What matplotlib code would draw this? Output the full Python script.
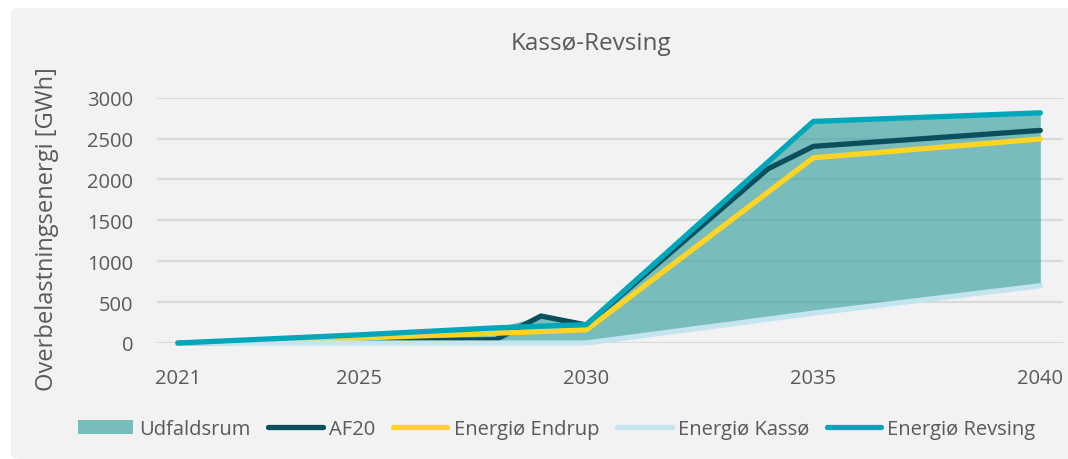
import matplotlib.pyplot as plt
from matplotlib.patches import FancyBboxPatch, Patch
from matplotlib.lines import Line2D

plt.rcParams['font.family'] = ['Open Sans', 'DejaVu Sans']

# data (GWh)
af20_years = [2021, 2028, 2029, 2030, 2034, 2035, 2040]
af20 = [0, 40, 330, 220, 2130, 2405, 2600]

endrup_years = [2021, 2025, 2030, 2035, 2040]
endrup = [0, 60, 160, 2265, 2495]

kasso_years = [2021, 2030, 2035, 2040]
kasso = [0, 0, 365, 700]

revsing_years = [2021, 2025, 2028, 2030, 2035, 2040]
revsing = [0, 100, 185, 225, 2710, 2815]

# outcome range (Udfaldsrum): low/high envelope
udfald_years = [2021, 2028, 2029, 2030, 2035, 2040]
udfald_low = [0, 0, 0, 0, 365, 700]
udfald_high = [0, 185, 330, 225, 2710, 2815]

xticks = [2021, 2025, 2030, 2035, 2040]
yticks = [0, 500, 1000, 1500, 2000, 2500, 3000]

c_fill = '#349E9C'
c_af20 = '#0B4F5C'
c_endrup = '#FFD424'
c_kasso = '#C4E4F0'
c_revsing = '#00A7BA'
txt = '#595959'

fig = plt.figure(figsize=(10.68, 4.6), dpi=100)
fig.patch.set_facecolor('white')
bg = FancyBboxPatch((11 / 1068, 0), 1.2, 1 - 9 / 460, boxstyle='round,pad=0,rounding_size=0.01',
                    transform=fig.transFigure, facecolor='#F2F2F2', edgecolor='none', zorder=-10)
fig.patches.append(bg)

ax = fig.add_axes([157 / 1068, 1 - 344 / 460, (1063 - 157) / 1068, (344 - 98.7) / 460])
ax.set_facecolor('none')

ax.fill_between(udfald_years, udfald_low, udfald_high, color=c_fill, alpha=0.64, lw=0, zorder=2)
lw = 3.8
ax.plot(af20_years, af20, color=c_af20, lw=lw, solid_capstyle='round', zorder=3, clip_on=False)
ax.plot(endrup_years, endrup, color=c_endrup, lw=lw, solid_capstyle='round', zorder=4, clip_on=False)
ax.plot(kasso_years, kasso, color=c_kasso, lw=lw, solid_capstyle='round', zorder=5, clip_on=False)
ax.plot(revsing_years, revsing, color=c_revsing, lw=lw, solid_capstyle='round', zorder=6, clip_on=False)

ax.set_xlim(2020.54, 2040.5)
ax.set_ylim(0, 3000)
ax.set_xticks(xticks)
ax.set_yticks(yticks)
ax.grid(axis='y', color='#D9D9D9', lw=1.5, zorder=1)
ax.set_axisbelow(True)
for s in ax.spines.values():
    s.set_visible(False)
ax.tick_params(length=0, labelsize=14.5, labelcolor=txt)
ax.tick_params(axis='x', pad=18)
ax.tick_params(axis='y', pad=17)

ax.set_ylabel('Overbelastningsenergi [GWh]', fontsize=17, color=txt)
ax.yaxis.set_label_coords(-0.108, 0.47)
fig.text(591 / 1068, 1 - 44 / 460, 'Kassø-Revsing', ha='center', va='center', fontsize=17.5, color=txt)

handles = [
    Patch(facecolor=c_fill, alpha=0.64, edgecolor='none'),
    Line2D([], [], color=c_af20, lw=lw, solid_capstyle='round'),
    Line2D([], [], color=c_endrup, lw=lw, solid_capstyle='round'),
    Line2D([], [], color=c_kasso, lw=lw, solid_capstyle='round'),
    Line2D([], [], color=c_revsing, lw=lw, solid_capstyle='round'),
]
labels = ['Udfaldsrum', 'AF20', 'Energiø Endrup', 'Energiø Kassø', 'Energiø Revsing']
leg = fig.legend(handles, labels, loc='center', bbox_to_anchor=(557 / 1068, 1 - 430 / 460), ncol=5,
                 frameon=False, fontsize=14.5, handlelength=2.7, handletextpad=0.3, columnspacing=0.9,
                 labelcolor=txt)

fig.savefig('out.png', dpi=100, facecolor=fig.get_facecolor())
